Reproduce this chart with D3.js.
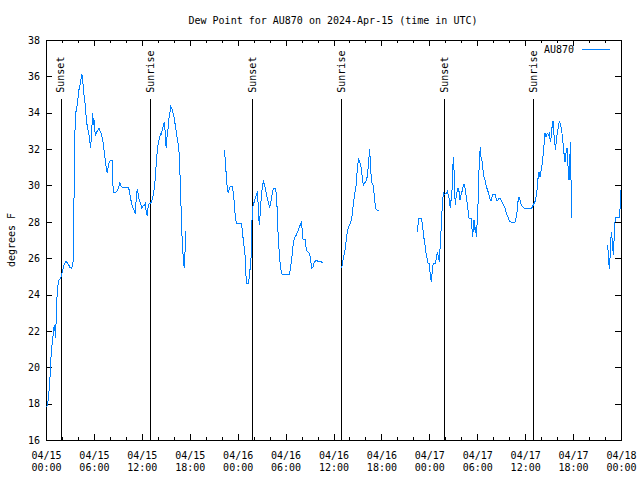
<!DOCTYPE html>
<html>
  <head>
    <meta charset="utf-8">
    <title>Dew Point for AU870</title>
    <script src="https://cdn.jsdelivr.net/npm/d3@7"></script>
    <style>
    html, body {
        margin: 0;
        padding: 0;
        background: #fff;
    }
    #vis text {
        font-family: 'DejaVu Sans Mono', monospace;
        font-size: 10px;
        fill: #000;
    }
    #vis .tick line, #vis .border, #vis .sun {
        stroke: #000;
        stroke-width: 1px;
        shape-rendering: crispEdges;
    }
    #vis .dew {
        fill: none;
        stroke: #0080ff;
        stroke-width: 1px;
        shape-rendering: crispEdges;
    }
    </style>
  </head>

  <body>
    <div id="vis"></div>
    <script>

      // observations: [hours after 2024-04-15 00:00 UTC, dew point in F]
      var dewSeg1 = [[0.08,17.8],[0.29,18.2],[0.42,18.9],[0.54,19.7],[0.67,20.95],[0.84,21.55],[0.96,22.15],[1.09,22.3],[1.17,21.6],[1.25,22.3],
        [1.34,23.6],[1.46,24.4],[1.63,24.8],[1.84,24.9],[2.0,25.2],[2.25,25.6],[2.5,25.85],[2.75,25.7],[3.0,25.5],[3.21,25.45],[3.38,25.7],
        [3.46,27.7],[3.58,31.7],[3.67,33.9],[3.83,34.2],[3.96,34.6],[4.12,35.25],[4.25,35.5],[4.37,35.8],[4.5,36.1],[4.58,35.9],[4.71,35.1],
        [4.83,34.8],[4.96,34.15],[5.08,33.5],[5.21,33.15],[5.33,32.95],[5.46,32.6],[5.58,32.05],[5.71,32.8],[5.83,34.0],[5.96,33.3],[6.04,33.6],
        [6.17,32.7],[6.33,32.95],[6.46,33.0],[6.62,33.15],[6.75,33.0],[6.87,32.9],[7.0,32.7],[7.17,32.3],[7.29,31.85],[7.42,31.4],[7.54,31.0],
        [7.67,30.7],[7.79,31.0],[7.92,31.3],[8.04,31.35],[8.29,31.35],[8.42,29.6],[8.67,29.6],[8.92,29.7],[9.08,29.85],[9.25,30.15],[9.37,30.0],
        [9.54,29.9],[10.33,29.9],[10.46,29.65],[10.58,29.35],[10.71,29.0],[10.87,28.8],[11.04,28.65],[11.17,28.45],[11.29,29.2],[11.42,29.8],
        [11.54,29.55],[11.67,29.2],[11.83,29.0],[12.0,28.75],[12.12,28.85],[12.29,28.9],[12.42,29.0],[12.54,28.6],[12.67,28.35],[12.79,28.85],
        [12.92,29.0],[13.04,29.0],[13.21,29.1],[13.33,29.3],[13.46,29.55],[13.58,29.95],[13.71,30.5],[13.83,31.4],[13.96,32.0],[14.08,32.4],
        [14.21,32.6],[14.33,32.85],[14.46,32.8],[14.58,33.15],[14.71,33.3],[14.83,33.5],[14.96,32.7],[15.04,32.05],[15.12,32.6],[15.25,32.95],
        [15.37,33.6],[15.5,33.95],[15.62,34.35],[15.75,34.25],[15.87,34.05],[16.0,33.85],[16.12,33.5],[16.25,33.15],[16.37,32.75],[16.5,32.4],
        [16.62,32.15],[16.75,31.0],[16.87,29.4],[17.0,27.55],[17.12,26.35],[17.25,25.9],[17.29,25.45],[17.42,26.45],[17.46,27.5]];

      var dewSeg2 = [[22.33,31.95],[22.45,31.44],[22.58,30.48],[22.7,29.84],[22.83,29.57],[22.95,29.79],[23.08,29.97],[23.33,29.97],[23.45,29.57],
        [23.58,29.02],[23.7,28.28],[23.83,27.92],[24.46,27.92],[24.58,27.55],[24.7,27.0],[24.83,26.54],[24.96,26.0],[25.08,24.62],[25.33,24.62],
        [25.46,24.98],[25.58,25.53],[25.67,26.0],[25.75,27.37],[25.83,28.65],[25.96,28.93],[26.08,29.11],[26.21,29.29],[26.33,29.48],[26.46,29.6],
        [26.54,29.2],[26.62,28.38],[26.71,27.83],[26.79,28.28],[26.88,28.93],[27.0,29.57],[27.12,30.03],[27.25,30.21],[27.38,30.03],[27.5,29.75],
        [27.63,29.48],[27.75,29.2],[27.88,29.02],[28.0,28.74],[28.13,29.02],[28.25,29.38],[28.38,29.66],[28.5,29.84],[28.75,29.84],[28.88,29.38],
        [28.96,28.47],[29.05,27.46],[29.17,26.54],[29.25,26.0],[29.34,25.63],[29.46,25.26],[29.59,25.08],[30.47,25.08],[30.59,25.35],[30.72,25.81],
        [30.84,26.27],[30.97,26.82],[31.09,27.09],[31.22,27.18],[31.34,27.28],[31.47,27.4],[31.59,27.55],[31.72,27.73],[31.84,27.83],[31.97,27.95],
        [32.05,27.7],[32.18,27.04],[32.43,27.04],[32.55,26.63],[32.68,26.41],[32.93,26.3],[33.05,26.12],[33.18,25.72],[33.3,25.44],[33.43,25.53],
        [33.55,25.72],[33.68,25.81],[33.8,25.86],[33.93,25.86],[34.18,25.81],[34.43,25.81],[34.64,25.75]];

      var dewSeg3 = [[37.02,25.44],[37.14,25.81],[37.27,26.08],[37.39,26.27],[37.52,26.73],[37.64,27.18],[37.77,27.55],[37.9,27.73],[38.02,27.83],
        [38.14,27.92],[38.28,28.19],[38.4,28.65],[38.53,29.1],[38.65,29.57],[38.78,29.75],[38.9,30.48],[39.03,31.13],[39.15,31.44],[39.28,31.31],
        [39.4,31.13],[39.53,30.76],[39.66,30.21],[39.78,30.03],[39.9,30.15],[40.03,30.21],[40.16,30.34],[40.28,30.67],[40.41,31.4],[40.53,31.99],
        [40.66,30.85],[40.78,30.15],[40.91,30.12],[41.03,29.75],[41.16,29.2],[41.28,28.74],[41.41,28.65],[41.66,28.6]];

      var dewSeg4 = [[46.5,27.46],[46.58,27.83],[46.71,28.19],[46.96,28.19],[47.08,28.01],[47.21,27.55],[47.33,27.09],[47.46,26.73],[47.59,26.27],
        [47.71,26.0],[47.84,25.72],[48.0,25.72],[48.13,24.98],[48.25,24.71],[48.38,25.35],[48.5,25.72],[48.75,25.72],[48.88,26.0],[49.0,26.36],
        [49.13,26.08],[49.25,25.81],[49.38,26.82],[49.5,27.83],[49.63,28.93],[49.76,29.57],[49.88,29.48],[50.0,29.53],[50.13,29.57],[50.26,29.66],
        [50.38,29.48],[50.51,29.2],[50.63,28.74],[50.72,29.2],[50.84,29.75],[50.92,30.85],[51.01,31.55],[51.09,30.85],[51.17,29.57],[51.26,28.93],
        [51.34,29.29],[51.47,29.66],[51.59,29.84],[51.72,29.66],[51.84,29.2],[51.97,29.48],[52.09,29.66],[52.22,29.9],[52.34,30.08],[52.47,29.84],
        [52.59,29.48],[52.72,29.11],[52.84,28.65],[52.97,28.19],[53.22,28.19],[53.34,27.64],[53.43,27.18],[53.51,27.73],[53.6,28.1],[53.68,27.55],
        [53.76,27.73],[53.85,27.37],[53.93,27.18],[54.01,28.47],[54.1,29.02],[54.18,30.21],[54.26,31.44],[54.39,32.1],[54.47,31.58],[54.6,31.36],
        [54.72,30.85],[54.85,30.48],[54.97,30.3],[55.1,30.03],[55.22,29.84],[55.35,29.66],[55.47,29.48],[55.6,29.24],[55.72,29.16],[55.85,29.38],
        [55.97,29.51],[56.22,29.51],[56.35,29.29],[56.47,29.16],[56.6,29.2],[56.73,29.29],[56.85,29.29],[56.98,29.2],[57.1,29.11],[57.23,28.98],
        [57.35,28.87],[57.48,28.74],[57.6,28.56],[57.73,28.38],[57.85,28.25],[57.98,28.1],[58.1,28.01],[58.31,27.97],[58.73,27.97],[58.85,28.19],
        [58.98,28.56],[59.1,29.11],[59.23,29.35],[59.36,29.2],[59.48,28.98],[59.61,28.87],[59.77,28.78],[59.98,28.74],[60.81,28.74],[61.02,28.93],
        [61.23,29.11],[61.36,29.38],[61.48,29.75],[61.61,30.39],[61.73,30.76],[61.86,30.48],[61.98,30.76],[62.11,31.13],[62.23,31.58],[62.36,32.22],
        [62.48,32.87],[62.61,32.68],[62.69,32.78],[62.82,32.87],[62.94,32.78],[63.03,32.87],[63.15,32.41],[63.28,32.68],[63.4,33.42],[63.53,33.56],
        [63.61,32.78],[63.74,32.22],[63.82,31.95],[63.9,32.59],[64.03,32.87],[64.15,33.23],[64.28,33.56],[64.36,33.42],[64.49,33.23],[64.61,32.87],
        [64.74,32.32],[64.86,31.77],[64.99,31.31],[65.11,31.77],[65.24,32.04],[65.32,31.4],[65.41,30.76],[65.49,30.3],[65.57,31.03],[65.66,32.41],
        [65.74,30.3],[65.78,28.19]];

      var dewSeg5 = [[70.29,26.73],[70.38,26.45],[70.46,25.9],[70.54,25.39],[70.63,26.08],[70.71,26.91],[70.79,27.46],[70.88,27.09],[70.96,26.63],
        [71.04,26.18],[71.13,27.0],[71.21,27.73],[71.29,28.25],[71.79,28.25],[71.88,28.74],[71.96,29.75]];

      var sunHours = [1.84, 13.05, 25.83, 36.95, 49.84, 61.02];
      var sunLabels = ['Sunset', 'Sunrise', 'Sunset', 'Sunrise', 'Sunset', 'Sunrise'];

      var titleText = 'Dew Point for AU870 on 2024-Apr-15 (time in UTC)';
      var seriesName = 'AU870';
      var yLabel = 'degrees F';

      var W = 640, H = 480;
      var margin = {top: 40, right: 19, bottom: 40, left: 46};
      var width = W - margin.left - margin.right;
      var height = H - margin.top - margin.bottom;

      var t0 = Date.UTC(2024, 3, 15);
      function toDate(h) { return new Date(t0 + h * 3600 * 1000); }

      var x = d3.scaleUtc().domain([toDate(0), toDate(72)]).range([0, width]);
      var y = d3.scaleLinear().domain([16, 38]).range([height, 0]);

      var svg = d3.select('#vis').append('svg')
          .attr('width', W)
          .attr('height', H);

      svg.append('text')
          .attr('x', 333)
          .attr('y', 24)
          .attr('text-anchor', 'middle')
          .text(titleText);

      svg.append('text')
          .attr('transform', 'translate(11,' + (margin.top + height / 2) + ') rotate(-90)')
          .attr('text-anchor', 'middle')
          .attr('dy', '0.35em')
          .text(yLabel);

      var g = svg.append('g')
          .attr('transform', 'translate(' + margin.left + ',' + margin.top + ')');

      // minor x ticks every 2 hours, top and bottom
      g.append('g')
          .attr('transform', 'translate(0,' + height + ')')
          .call(d3.axisBottom(x).ticks(d3.utcHour.every(2)).tickSizeInner(-3).tickSizeOuter(0).tickFormat(''));
      g.append('g')
          .call(d3.axisTop(x).ticks(d3.utcHour.every(2)).tickSizeInner(-3).tickSizeOuter(0).tickFormat(''));

      // major x ticks every 6 hours
      var fmtDay = d3.utcFormat('%m/%d'), fmtTime = d3.utcFormat('%H:%M');
      var xAxis = g.append('g')
          .attr('transform', 'translate(0,' + height + ')')
          .call(d3.axisBottom(x).ticks(d3.utcHour.every(6)).tickSizeInner(-6).tickSizeOuter(0).tickFormat(''));
      xAxis.selectAll('.tick').append('text')
          .attr('text-anchor', 'middle')
          .each(function(d) {
            var t = d3.select(this);
            t.append('tspan').attr('x', 0).attr('y', 19).text(fmtDay(d));
            t.append('tspan').attr('x', 0).attr('y', 31).text(fmtTime(d));
          });
      g.append('g')
          .call(d3.axisTop(x).ticks(d3.utcHour.every(6)).tickSizeInner(-6).tickSizeOuter(0).tickFormat(''));

      g.append('g')
          .call(d3.axisLeft(y).ticks(11).tickSizeInner(-6).tickSizeOuter(0).tickPadding(6));
      g.append('g')
          .attr('transform', 'translate(' + width + ',0)')
          .call(d3.axisRight(y).ticks(11).tickSizeInner(-6).tickSizeOuter(0).tickFormat(''));

      g.selectAll('.domain').remove();
      g.selectAll('.tick text').attr('font-family', null).attr('font-size', null);

      g.append('rect')
          .attr('class', 'border')
          .attr('width', width)
          .attr('height', height)
          .attr('fill', 'none');

      // sunrise / sunset markers
      var sun = g.selectAll('.sunmark')
          .data(sunHours)
          .enter()
          .append('g')
          .attr('class', 'sunmark');
      sun.append('line')
          .attr('class', 'sun')
          .attr('x1', function(d) { return Math.round(x(toDate(d))); })
          .attr('x2', function(d) { return Math.round(x(toDate(d))); })
          .attr('y1', y(34.75))
          .attr('y2', height);
      sun.append('text')
          .attr('transform', function(d) {
            return 'translate(' + x(toDate(d)) + ',' + y(35.1) + ') rotate(-90)';
          })
          .attr('dy', '0.35em')
          .text(function(d, i) { return sunLabels[i]; });

      var line = d3.line()
          .x(function(d) { return x(toDate(d[0])); })
          .y(function(d) { return y(d[1]); });

      g.selectAll('.dew')
          .data([dewSeg1, dewSeg2, dewSeg3, dewSeg4, dewSeg5])
          .enter()
          .append('path')
          .attr('class', 'dew')
          .attr('d', line);

      // legend
      svg.append('text')
          .attr('x', 574)
          .attr('y', 53)
          .attr('text-anchor', 'end')
          .text(seriesName);
      svg.append('line')
          .attr('x1', 582)
          .attr('x2', 610)
          .attr('y1', 49.5)
          .attr('y2', 49.5)
          .attr('stroke', '#0080ff');

    </script>
  </body>
</html>
